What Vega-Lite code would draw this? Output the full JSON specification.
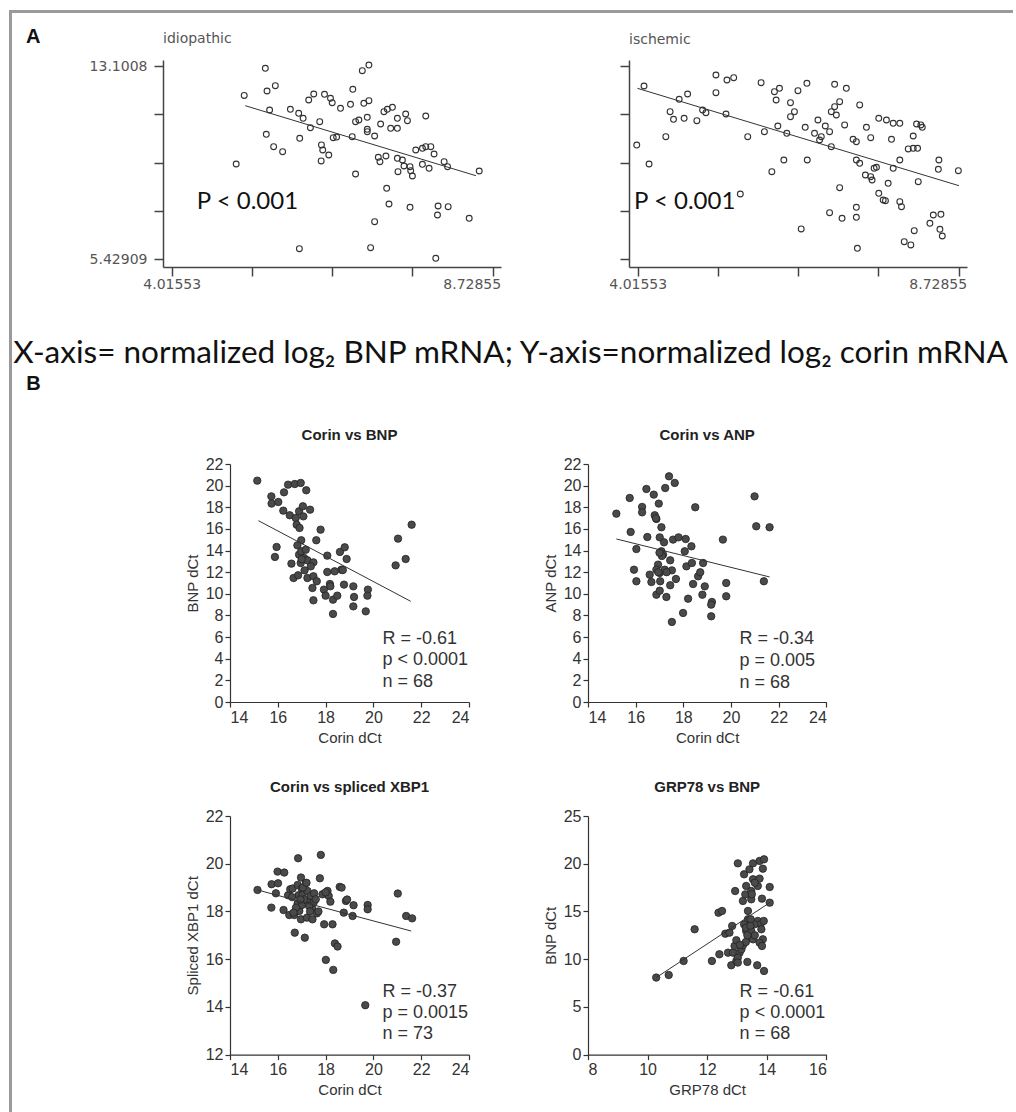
{
"$schema": "https://vega.github.io/schema/vega-lite/v6.json",
"background": "white",
"padding": {"left": 9, "top": 10, "right": 0, "bottom": 0},
"bounds": "flush",
"spacing": 0,
"datasets": {
"a_idio": [
{"x":5.390,"y":13.009},{"x":6.911,"y":13.14},{"x":6.814,"y":12.914},{"x":5.537,"y":12.318},{"x":5.415,"y":12.107},{"x":5.080,"y":11.93},{"x":6.101,"y":11.988},{"x":6.027,"y":11.749},{"x":6.259,"y":11.976},{"x":6.347,"y":11.817},{"x":6.372,"y":11.642},{"x":6.494,"y":11.42},{"x":6.675,"y":12.175},{"x":6.641,"y":11.578},{"x":6.837,"y":11.618},{"x":6.911,"y":11.721},{"x":5.453,"y":11.352},{"x":5.758,"y":11.380},{"x":5.880,"y":11.221},{"x":5.945,"y":11.022},{"x":6.052,"y":10.648},{"x":6.189,"y":10.887},{"x":6.387,"y":10.251},{"x":5.895,"y":10.227},{"x":5.404,"y":10.386},{"x":5.512,"y":9.893},{"x":5.644,"y":9.694},{"x":4.962,"y":9.205},{"x":6.214,"y":9.961},{"x":6.233,"y":9.762},{"x":6.322,"y":9.563},{"x":6.210,"y":9.325},{"x":6.666,"y":10.291},{"x":6.715,"y":10.887},{"x":6.764,"y":10.954},{"x":6.887,"y":11.062},{"x":6.887,"y":10.585},{"x":6.995,"y":10.318},{"x":7.083,"y":10.795},{"x":7.132,"y":11.284},{"x":7.182,"y":11.380},{"x":7.256,"y":11.459},{"x":7.231,"y":10.624},{"x":7.329,"y":10.624},{"x":7.329,"y":11.022},{"x":7.451,"y":11.193},{"x":7.477,"y":10.926},{"x":7.746,"y":11.113},{"x":6.715,"y":8.808},{"x":7.049,"y":9.472},{"x":7.073,"y":9.297},{"x":7.161,"y":9.523},{"x":7.329,"y":9.432},{"x":7.338,"y":8.899},{"x":7.403,"y":9.364},{"x":7.426,"y":9.126},{"x":7.515,"y":9.098},{"x":7.525,"y":8.939},{"x":7.550,"y":8.728},{"x":7.599,"y":9.762},{"x":7.697,"y":9.829},{"x":7.746,"y":9.893},{"x":7.820,"y":9.893},{"x":7.697,"y":9.193},{"x":7.795,"y":9.034},{"x":7.868,"y":9.603},{"x":8.016,"y":9.297},{"x":8.066,"y":9.098},{"x":8.531,"y":8.927},{"x":7.172,"y":8.239},{"x":7.206,"y":7.615},{"x":7.515,"y":7.484},{"x":7.927,"y":7.536},{"x":8.075,"y":7.508},{"x":7.918,"y":7.178},{"x":8.384,"y":7.047},{"x":6.995,"y":6.912},{"x":5.890,"y":5.839},{"x":6.936,"y":5.878},{"x":7.893,"y":5.457},{"x":6.887,"y":10.489},{"x":6.437,"y":10.278}
],
"a_isch": [
{"x":4.001,"y":9.960},{"x":4.182,"y":9.205},{"x":4.108,"y":12.306},{"x":4.428,"y":10.291},{"x":4.491,"y":11.284},{"x":4.541,"y":10.982},{"x":4.624,"y":11.777},{"x":4.748,"y":11.988},{"x":4.697,"y":11.022},{"x":4.884,"y":10.926},{"x":4.968,"y":11.352},{"x":5.017,"y":11.244},{"x":5.164,"y":12.743},{"x":5.164,"y":12.039},{"x":5.312,"y":11.193},{"x":5.326,"y":12.544},{"x":5.425,"y":12.636},{"x":5.631,"y":10.291},{"x":5.827,"y":12.437},{"x":5.876,"y":10.489},{"x":5.985,"y":8.899},{"x":6.023,"y":12.079},{"x":6.097,"y":12.214},{"x":6.048,"y":11.749},{"x":6.073,"y":10.716},{"x":6.161,"y":9.364},{"x":6.205,"y":10.426},{"x":6.259,"y":11.642},{"x":6.259,"y":11.085},{"x":6.317,"y":11.284},{"x":6.368,"y":12.119},{"x":6.500,"y":12.413},{"x":6.475,"y":10.664},{"x":6.505,"y":9.364},{"x":6.612,"y":10.426},{"x":6.662,"y":10.954},{"x":6.686,"y":10.159},{"x":6.711,"y":10.291},{"x":6.770,"y":10.716},{"x":6.833,"y":10.489},{"x":6.858,"y":9.893},{"x":6.858,"y":11.284},{"x":6.907,"y":11.483},{"x":6.932,"y":11.153},{"x":6.981,"y":11.682},{"x":6.907,"y":12.373},{"x":7.079,"y":12.214},{"x":7.054,"y":10.756},{"x":6.981,"y":8.263},{"x":6.833,"y":7.270},{"x":7.016,"y":7.047},{"x":7.226,"y":7.484},{"x":7.226,"y":7.087},{"x":7.241,"y":5.854},{"x":7.275,"y":11.551},{"x":7.178,"y":10.187},{"x":7.226,"y":10.092},{"x":7.226,"y":9.364},{"x":7.275,"y":9.233},{"x":7.374,"y":10.664},{"x":7.437,"y":10.251},{"x":7.359,"y":8.768},{"x":7.457,"y":8.569},{"x":7.487,"y":9.034},{"x":7.437,"y":8.701},{"x":7.521,"y":9.074},{"x":7.555,"y":8.041},{"x":7.620,"y":7.774},{"x":7.653,"y":7.746},{"x":7.693,"y":8.438},{"x":7.555,"y":11.022},{"x":7.668,"y":10.954},{"x":7.767,"y":10.823},{"x":7.742,"y":10.187},{"x":7.864,"y":10.823},{"x":7.767,"y":9.034},{"x":7.864,"y":7.707},{"x":7.889,"y":7.508},{"x":7.864,"y":9.364},{"x":8.061,"y":10.318},{"x":7.988,"y":9.802},{"x":8.061,"y":9.829},{"x":8.125,"y":9.829},{"x":8.110,"y":10.795},{"x":8.173,"y":10.756},{"x":8.194,"y":10.664},{"x":8.135,"y":8.502},{"x":7.929,"y":6.117},{"x":8.026,"y":5.986},{"x":8.076,"y":6.554},{"x":8.306,"y":6.848},{"x":8.356,"y":7.178},{"x":8.468,"y":7.206},{"x":8.453,"y":6.610},{"x":8.488,"y":6.343},{"x":8.430,"y":8.995},{"x":8.438,"y":9.364},{"x":8.724,"y":8.939},{"x":6.416,"y":6.622},{"x":5.522,"y":8.013}
],
"b1": [
{"x":15.14,"y":20.46},{"x":15.73,"y":19.01},{"x":15.74,"y":18.34},{"x":16.02,"y":18.49},{"x":16.23,"y":17.69},{"x":16.26,"y":19.38},{"x":16.43,"y":20.09},{"x":16.71,"y":20.15},{"x":16.96,"y":20.25},{"x":17.19,"y":19.57},{"x":16.50,"y":17.26},{"x":16.75,"y":17.01},{"x":16.89,"y":17.63},{"x":17.05,"y":18.09},{"x":17.07,"y":17.16},{"x":17.35,"y":17.78},{"x":16.79,"y":16.39},{"x":16.91,"y":16.09},{"x":16.98,"y":14.95},{"x":16.82,"y":14.48},{"x":17.79,"y":15.93},{"x":17.61,"y":14.95},{"x":15.95,"y":14.33},{"x":15.88,"y":13.41},{"x":16.89,"y":13.62},{"x":16.98,"y":13.93},{"x":17.17,"y":14.08},{"x":17.10,"y":13.31},{"x":17.24,"y":13.10},{"x":16.96,"y":12.85},{"x":17.49,"y":12.91},{"x":17.38,"y":12.54},{"x":16.57,"y":12.79},{"x":16.66,"y":11.46},{"x":16.85,"y":11.71},{"x":17.12,"y":12.17},{"x":17.24,"y":11.46},{"x":17.49,"y":11.62},{"x":17.63,"y":11.16},{"x":17.45,"y":10.54},{"x":17.49,"y":9.40},{"x":18.07,"y":13.53},{"x":18.07,"y":12.02},{"x":18.38,"y":12.08},{"x":18.18,"y":10.91},{"x":17.93,"y":10.39},{"x":18.00,"y":9.83},{"x":18.31,"y":9.46},{"x":18.49,"y":9.83},{"x":18.31,"y":8.14},{"x":18.60,"y":13.87},{"x":18.80,"y":14.30},{"x":18.88,"y":13.22},{"x":18.66,"y":12.23},{"x":18.77,"y":10.85},{"x":19.16,"y":10.69},{"x":19.19,"y":9.71},{"x":19.16,"y":8.84},{"x":19.68,"y":8.38},{"x":19.77,"y":10.39},{"x":19.75,"y":9.83},{"x":20.93,"y":12.63},{"x":21.03,"y":15.10},{"x":21.35,"y":13.22},{"x":21.60,"y":16.39},{"x":18.72,"y":12.2},{"x":17.0,"y":13.2},{"x":18.2,"y":10.7}
],
"b2": [
{"x":15.19,"y":17.41},{"x":15.75,"y":18.86},{"x":15.79,"y":15.72},{"x":16.03,"y":14.14},{"x":15.93,"y":12.23},{"x":16.03,"y":11.16},{"x":16.27,"y":18.03},{"x":16.27,"y":17.53},{"x":16.45,"y":19.69},{"x":16.49,"y":15.25},{"x":16.76,"y":19.17},{"x":16.80,"y":17.26},{"x":16.87,"y":16.92},{"x":16.97,"y":18.34},{"x":17.08,"y":16.15},{"x":17.24,"y":19.78},{"x":17.40,"y":20.86},{"x":17.64,"y":20.25},{"x":17.01,"y":15.22},{"x":17.19,"y":14.76},{"x":17.08,"y":13.93},{"x":17.15,"y":13.62},{"x":17.45,"y":13.10},{"x":16.94,"y":12.70},{"x":16.87,"y":12.23},{"x":17.01,"y":11.93},{"x":17.22,"y":12.23},{"x":17.52,"y":12.17},{"x":16.59,"y":11.77},{"x":16.66,"y":11.09},{"x":17.03,"y":11.16},{"x":17.69,"y":11.37},{"x":17.45,"y":10.79},{"x":16.87,"y":9.92},{"x":17.01,"y":10.29},{"x":17.29,"y":9.71},{"x":17.52,"y":7.40},{"x":17.57,"y":15.01},{"x":17.80,"y":15.22},{"x":18.10,"y":15.07},{"x":18.34,"y":14.39},{"x":18.06,"y":13.93},{"x":18.13,"y":12.54},{"x":18.36,"y":12.85},{"x":18.50,"y":18.00},{"x":18.20,"y":9.55},{"x":17.99,"y":8.23},{"x":18.41,"y":10.91},{"x":18.62,"y":11.62},{"x":18.71,"y":11.99},{"x":18.83,"y":12.85},{"x":18.90,"y":10.69},{"x":18.80,"y":9.92},{"x":19.20,"y":9.25},{"x":19.17,"y":9.00},{"x":19.17,"y":7.92},{"x":19.66,"y":15.01},{"x":19.80,"y":11.00},{"x":19.80,"y":9.77},{"x":20.99,"y":19.01},{"x":21.06,"y":16.24},{"x":21.62,"y":16.15},{"x":21.38,"y":11.16},{"x":17.1,"y":13.5},{"x":16.95,"y":12.0},{"x":17.3,"y":12.0},{"x":16.85,"y":17.0},{"x":17.0,"y":13.8}
],
"b3": [
{"x":15.15,"y":18.90},{"x":15.73,"y":18.16},{"x":15.74,"y":19.14},{"x":15.92,"y":18.76},{"x":16.01,"y":19.18},{"x":15.99,"y":19.67},{"x":16.27,"y":19.63},{"x":16.24,"y":18.06},{"x":16.43,"y":18.68},{"x":16.52,"y":18.93},{"x":16.48,"y":17.85},{"x":16.69,"y":17.85},{"x":16.62,"y":18.96},{"x":16.71,"y":17.11},{"x":16.85,"y":20.23},{"x":16.83,"y":19.11},{"x":16.87,"y":18.68},{"x":16.83,"y":18.34},{"x":16.90,"y":18.02},{"x":16.97,"y":19.42},{"x":17.00,"y":18.96},{"x":17.03,"y":18.68},{"x":16.97,"y":17.67},{"x":17.01,"y":18.27},{"x":17.13,"y":16.90},{"x":17.17,"y":19.18},{"x":17.24,"y":18.86},{"x":17.24,"y":18.44},{"x":17.22,"y":17.74},{"x":17.38,"y":18.65},{"x":17.43,"y":18.16},{"x":17.45,"y":17.67},{"x":17.50,"y":18.37},{"x":17.52,"y":18.76},{"x":17.64,"y":17.92},{"x":17.76,"y":19.39},{"x":17.80,"y":20.37},{"x":17.87,"y":18.72},{"x":17.94,"y":17.46},{"x":18.01,"y":15.97},{"x":18.08,"y":18.86},{"x":18.13,"y":18.65},{"x":18.20,"y":18.41},{"x":18.29,"y":17.46},{"x":18.32,"y":15.55},{"x":18.39,"y":16.66},{"x":18.50,"y":16.53},{"x":18.59,"y":19.03},{"x":18.67,"y":19.00},{"x":18.76,"y":17.95},{"x":18.85,"y":18.44},{"x":19.13,"y":17.81},{"x":19.17,"y":18.26},{"x":19.66,"y":14.07},{"x":19.76,"y":18.27},{"x":19.76,"y":18.09},{"x":20.95,"y":16.73},{"x":21.02,"y":18.75},{"x":21.37,"y":17.81},{"x":21.62,"y":17.71},{"x":16.76,"y":18.16},{"x":16.66,"y":17.95},{"x":17.31,"y":18.23},{"x":17.59,"y":18.51},{"x":17.10,"y":18.51},{"x":17.05,"y":19.0},{"x":16.95,"y":18.5},{"x":17.35,"y":18.0},{"x":18.0,"y":18.8},{"x":16.6,"y":18.6},{"x":17.2,"y":19.2},{"x":18.9,"y":18.5},{"x":17.7,"y":18.0}
],
"b4": [
{"x":10.29,"y":8.07},{"x":10.71,"y":8.34},{"x":11.21,"y":9.81},{"x":11.58,"y":13.13},{"x":12.16,"y":9.81},{"x":12.38,"y":14.87},{"x":12.50,"y":15.05},{"x":12.41,"y":10.51},{"x":12.61,"y":12.67},{"x":12.75,"y":12.78},{"x":12.84,"y":13.48},{"x":12.70,"y":10.68},{"x":12.81,"y":9.36},{"x":12.98,"y":9.81},{"x":12.87,"y":10.68},{"x":12.92,"y":11.38},{"x":12.98,"y":11.98},{"x":13.03,"y":20.04},{"x":12.94,"y":17.14},{"x":13.20,"y":16.10},{"x":13.24,"y":18.89},{"x":13.31,"y":17.67},{"x":13.28,"y":16.79},{"x":13.37,"y":15.05},{"x":13.42,"y":19.41},{"x":13.48,"y":17.14},{"x":13.48,"y":16.27},{"x":13.54,"y":20.04},{"x":13.37,"y":14.18},{"x":13.24,"y":13.65},{"x":13.31,"y":12.95},{"x":13.40,"y":12.26},{"x":13.48,"y":12.95},{"x":13.54,"y":12.08},{"x":13.09,"y":10.68},{"x":13.15,"y":11.03},{"x":13.20,"y":11.45},{"x":13.03,"y":10.16},{"x":13.03,"y":9.64},{"x":13.35,"y":9.71},{"x":13.54,"y":18.37},{"x":13.70,"y":17.67},{"x":13.76,"y":18.44},{"x":13.76,"y":20.29},{"x":13.91,"y":20.46},{"x":13.87,"y":19.48},{"x":13.84,"y":16.34},{"x":14.10,"y":17.56},{"x":14.10,"y":15.92},{"x":13.70,"y":14.00},{"x":13.79,"y":13.65},{"x":13.82,"y":13.13},{"x":13.87,"y":12.08},{"x":13.76,"y":11.73},{"x":13.84,"y":11.38},{"x":13.68,"y":9.36},{"x":13.91,"y":8.76},{"x":13.59,"y":13.65},{"x":13.46,"y":14.18},{"x":13.3,"y":13.3},{"x":13.45,"y":13.5},{"x":13.6,"y":12.5},{"x":13.3,"y":11.8},{"x":13.1,"y":11.5},{"x":13.5,"y":16.8},{"x":13.6,"y":18.0},{"x":13.9,"y":14.0},{"x":13.35,"y":12.5}
]
},
"hconcat": [
{"width": 3, "height": 1102, "view": {"fill": "#9a9a9a"}, "data": {"values": []}, "mark": "point"},
{"vconcat": [
 {"width": 1001, "height": 3, "view": {"fill": "#9a9a9a"}, "data": {"values": []}, "mark": "point"},
 {"width": 10, "height": 14, "data": {"values": []}, "mark": "point"},
 {"hconcat": [
   {"width": 151, "height": 207, "data": {"values": []}, "mark": "point",
    "title": {"text": "A", "anchor": "start", "dx": 14, "font": "Liberation Sans", "fontSize": 20, "fontWeight": "bold", "color": "#111", "offset": 13}},
   {"width": 338, "height": 207,
    "title": {"text": "idiopathic", "anchor": "start", "font": "DejaVu Sans", "fontSize": 14, "fontWeight": "normal", "color": "#555", "offset": 13},
    "layer": [
     {"data": {"name": "a_idio"}, "mark": {"type": "point", "shape": "circle", "filled": false, "size": 34, "stroke": "#333", "strokeWidth": 1.1, "opacity": 1},
      "encoding": {
       "x": {"field": "x", "type": "quantitative", "scale": {"domain": [3.8874, 8.8508], "nice": false, "zero": false},
        "axis": {"title": null, "values": [4.01553, 5.193785, 6.37204, 7.550295, 8.72855], "format": ".6", "labelExpr": "datum.value < 4.1 || datum.value > 8.7 ? datum.label : ''", "labelAlign": {"condition": {"test": "datum.value > 8.7", "value": "right"}, "value": "center"}, "labelOffset": {"condition": {"test": "datum.value > 8.7", "value": 8}, "value": 0}, "labelOverlap": false, "labelBound": false, "labelFlush": false, "tickSize": 9, "tickWidth": 1.5, "domainWidth": 1.5, "labelPadding": 1, "labelFont": "DejaVu Sans", "labelFontSize": 14, "labelColor": "#555", "domainColor": "#444", "tickColor": "#444"}},
       "y": {"field": "y", "type": "quantitative", "scale": {"domain": [5.1111, 13.3393], "nice": false, "zero": false},
        "axis": {"title": null, "values": [5.42909, 7.347018, 9.264945, 11.182873, 13.1008], "format": ".6", "labelExpr": "datum.value < 5.5 || datum.value > 13 ? datum.label : ''", "labelOverlap": false, "labelBound": false, "labelFlush": false, "tickSize": 9, "tickWidth": 1.5, "domainWidth": 1.5, "labelPadding": 7, "labelFont": "DejaVu Sans", "labelFontSize": 14, "labelColor": "#555", "domainColor": "#444", "tickColor": "#444"}}
      }},
     {"data": {"values": [{"x": 5.095, "y": 11.523}, {"x": 8.483, "y": 8.740}]}, "mark": {"type": "line", "color": "#333", "strokeWidth": 1}, "encoding": {"x": {"field": "x", "type": "quantitative"}, "y": {"field": "y", "type": "quantitative"}}},
     {"data": {"values": [{"x": 4.384, "y": 7.707, "t": "P < 0.001"}]}, "mark": {"type": "text", "align": "left", "baseline": "middle", "font": "Lato", "fontSize": 24, "color": "#111"}, "encoding": {"x": {"field": "x", "type": "quantitative"}, "y": {"field": "y", "type": "quantitative"}, "text": {"field": "t"}}}
    ]},
   {"width": 127.3, "height": 207, "data": {"values": []}, "mark": "point"},
   {"width": 338, "height": 207,
    "title": {"text": "ischemic", "anchor": "start", "font": "DejaVu Sans", "fontSize": 14, "fontWeight": "normal", "color": "#555", "offset": 13},
    "layer": [
     {"data": {"name": "a_isch"}, "mark": {"type": "point", "shape": "circle", "filled": false, "size": 34, "stroke": "#333", "strokeWidth": 1.1, "opacity": 1},
      "encoding": {
       "x": {"field": "x", "type": "quantitative", "scale": {"domain": [3.8874, 8.8508], "nice": false, "zero": false},
        "axis": {"title": null, "values": [4.01553, 5.193785, 6.37204, 7.550295, 8.72855], "format": ".6", "labelExpr": "datum.value < 4.1 || datum.value > 8.7 ? datum.label : ''", "labelAlign": {"condition": {"test": "datum.value > 8.7", "value": "right"}, "value": "center"}, "labelOffset": {"condition": {"test": "datum.value > 8.7", "value": 8}, "value": 0}, "labelOverlap": false, "labelBound": false, "labelFlush": false, "tickSize": 9, "tickWidth": 1.5, "domainWidth": 1.5, "labelPadding": 1, "labelFont": "DejaVu Sans", "labelFontSize": 14, "labelColor": "#555", "domainColor": "#444", "tickColor": "#444"}},
       "y": {"field": "y", "type": "quantitative", "scale": {"domain": [5.1111, 13.3393], "nice": false, "zero": false},
        "axis": {"title": null, "values": [5.42909, 7.347018, 9.264945, 11.182873, 13.1008], "labels": false, "tickSize": 9, "tickWidth": 1.5, "domainWidth": 1.5, "domainColor": "#444", "tickColor": "#444"}}
      }},
     {"data": {"values": [{"x": 4.011, "y": 12.214}, {"x": 8.733, "y": 8.343}]}, "mark": {"type": "line", "color": "#333", "strokeWidth": 1}, "encoding": {"x": {"field": "x", "type": "quantitative"}, "y": {"field": "y", "type": "quantitative"}}},
     {"data": {"values": [{"x": 3.961, "y": 7.707, "t": "P < 0.001"}]}, "mark": {"type": "text", "align": "left", "baseline": "middle", "font": "Lato", "fontSize": 24, "color": "#111"}, "encoding": {"x": {"field": "x", "type": "quantitative"}, "y": {"field": "y", "type": "quantitative"}, "text": {"field": "t"}}}
    ]}
  ], "spacing": 0, "bounds": "flush"},
 {"width": 10, "height": 43, "data": {"values": []}, "mark": "point"},
 {"width": 997, "height": 40, "data": {"values": [{"t": "X-axis= normalized log₂ BNP mRNA; Y-axis=normalized log₂ corin mRNA"}]}, "mark": {"type": "text", "font": "Lato", "fontSize": 31.5, "color": "#111", "baseline": "middle"}, "encoding": {"text": {"field": "t"}}},
 {"width": 43, "height": 20, "data": {"values": [{"t": "B"}]}, "mark": {"type": "text", "font": "Liberation Sans", "fontSize": 20, "fontWeight": "bold", "color": "#111", "baseline": "middle"}, "encoding": {"text": {"field": "t"}}},
 {"width": 10, "height": 33.6, "data": {"values": []}, "mark": "point"},
 {"hconcat": [
   {"width": 217.3, "height": 238, "data": {"values": []}, "mark": "point"},
   {"width": 239, "height": 238, "title": "Corin vs BNP",
    "layer": [
     {"data": {"name": "b1"}, "mark": {"type": "circle", "size": 55, "fill": "#4a4a4a", "stroke": "#222", "strokeWidth": 0.8, "opacity": 1},
      "encoding": {
       "x": {"field": "x", "type": "quantitative", "scale": {"domain": [14, 24], "nice": false, "zero": false}, "axis": {"title": "Corin dCt", "values": [14, 16, 18, 20, 22, 24], "tickCount": 12, "format": "d"}},
       "y": {"field": "y", "type": "quantitative", "scale": {"domain": [0, 22], "nice": false, "zero": false}, "axis": {"title": "BNP dCt", "values": [0, 2, 4, 6, 8, 10, 12, 14, 16, 18, 20, 22], "tickCount": 24, "format": "d"}}
      }},
     {"data": {"values": [{"x": 15.19, "y": 16.76}, {"x": 21.56, "y": 9.31}]}, "mark": {"type": "line", "color": "#333", "strokeWidth": 1}, "encoding": {"x": {"field": "x", "type": "quantitative"}, "y": {"field": "y", "type": "quantitative"}}},
     {"data": {"values": [{"x": 20.38, "y": 5.82, "t": "R = -0.61"}, {"x": 20.38, "y": 3.85, "t": "p < 0.0001"}, {"x": 20.38, "y": 1.85, "t": "n = 68"}]}, "mark": {"type": "text", "align": "left", "baseline": "middle", "font": "Liberation Sans", "fontSize": 18, "color": "#333"}, "encoding": {"x": {"field": "x", "type": "quantitative"}, "y": {"field": "y", "type": "quantitative"}, "text": {"field": "t"}}}
    ]},
   {"width": 118.4, "height": 238, "data": {"values": []}, "mark": "point"},
   {"width": 238.3, "height": 238, "title": "Corin vs ANP",
    "layer": [
     {"data": {"name": "b2"}, "mark": {"type": "circle", "size": 55, "fill": "#4a4a4a", "stroke": "#222", "strokeWidth": 0.8, "opacity": 1},
      "encoding": {
       "x": {"field": "x", "type": "quantitative", "scale": {"domain": [14, 24], "nice": false, "zero": false}, "axis": {"title": "Corin dCt", "values": [14, 16, 18, 20, 22, 24], "tickCount": 12, "format": "d"}},
       "y": {"field": "y", "type": "quantitative", "scale": {"domain": [0, 22], "nice": false, "zero": false}, "axis": {"title": "ANP dCt", "values": [0, 2, 4, 6, 8, 10, 12, 14, 16, 18, 20, 22], "tickCount": 24, "format": "d"}}
      }},
     {"data": {"values": [{"x": 15.19, "y": 15.07}, {"x": 21.62, "y": 11.56}]}, "mark": {"type": "line", "color": "#333", "strokeWidth": 1}, "encoding": {"x": {"field": "x", "type": "quantitative"}, "y": {"field": "y", "type": "quantitative"}}},
     {"data": {"values": [{"x": 20.36, "y": 5.78, "t": "R = -0.34"}, {"x": 20.36, "y": 3.75, "t": "p = 0.005"}, {"x": 20.36, "y": 1.78, "t": "n = 68"}]}, "mark": {"type": "text", "align": "left", "baseline": "middle", "font": "Liberation Sans", "fontSize": 18, "color": "#333"}, "encoding": {"x": {"field": "x", "type": "quantitative"}, "y": {"field": "y", "type": "quantitative"}, "text": {"field": "t"}}}
    ]}
  ], "spacing": 0, "bounds": "flush"},
 {"width": 10, "height": 34.9, "data": {"values": []}, "mark": "point"},
 {"hconcat": [
   {"width": 217.3, "height": 238.6, "data": {"values": []}, "mark": "point"},
   {"width": 239, "height": 238.6, "title": "Corin vs spliced XBP1",
    "layer": [
     {"data": {"name": "b3"}, "mark": {"type": "circle", "size": 55, "fill": "#4a4a4a", "stroke": "#222", "strokeWidth": 0.8, "opacity": 1},
      "encoding": {
       "x": {"field": "x", "type": "quantitative", "scale": {"domain": [14, 24], "nice": false, "zero": false}, "axis": {"title": "Corin dCt", "values": [14, 16, 18, 20, 22, 24], "tickCount": 12, "format": "d"}},
       "y": {"field": "y", "type": "quantitative", "scale": {"domain": [12, 22], "nice": false, "zero": false}, "axis": {"title": "Spliced XBP1 dCt", "values": [12, 14, 16, 18, 20, 22], "tickCount": 12, "format": "d"}}
      }},
     {"data": {"values": [{"x": 15.15, "y": 18.90}, {"x": 21.58, "y": 17.18}]}, "mark": {"type": "line", "color": "#333", "strokeWidth": 1}, "encoding": {"x": {"field": "x", "type": "quantitative"}, "y": {"field": "y", "type": "quantitative"}}},
     {"data": {"values": [{"x": 20.38, "y": 14.64, "t": "R = -0.37"}, {"x": 20.38, "y": 13.73, "t": "p = 0.0015"}, {"x": 20.38, "y": 12.85, "t": "n = 73"}]}, "mark": {"type": "text", "align": "left", "baseline": "middle", "font": "Liberation Sans", "fontSize": 18, "color": "#333"}, "encoding": {"x": {"field": "x", "type": "quantitative"}, "y": {"field": "y", "type": "quantitative"}, "text": {"field": "t"}}}
    ]},
   {"width": 118.4, "height": 238.6, "data": {"values": []}, "mark": "point"},
   {"width": 238.3, "height": 238.6, "title": "GRP78 vs BNP",
    "layer": [
     {"data": {"name": "b4"}, "mark": {"type": "circle", "size": 55, "fill": "#4a4a4a", "stroke": "#222", "strokeWidth": 0.8, "opacity": 1},
      "encoding": {
       "x": {"field": "x", "type": "quantitative", "scale": {"domain": [8, 16], "nice": false, "zero": false}, "axis": {"title": "GRP78 dCt", "values": [8, 10, 12, 14, 16], "tickCount": 12, "format": "d"}},
       "y": {"field": "y", "type": "quantitative", "scale": {"domain": [0, 25], "nice": false, "zero": false}, "axis": {"title": "BNP dCt", "values": [0, 5, 10, 15, 20, 25], "tickCount": 12, "format": "d"}}
      }},
     {"data": {"values": [{"x": 10.29, "y": 8.07}, {"x": 14.10, "y": 15.92}]}, "mark": {"type": "line", "color": "#333", "strokeWidth": 1}, "encoding": {"x": {"field": "x", "type": "quantitative"}, "y": {"field": "y", "type": "quantitative"}}},
     {"data": {"values": [{"x": 13.09, "y": 6.60, "t": "R = -0.61"}, {"x": 13.09, "y": 4.33, "t": "p < 0.0001"}, {"x": 13.09, "y": 2.13, "t": "n = 68"}]}, "mark": {"type": "text", "align": "left", "baseline": "middle", "font": "Liberation Sans", "fontSize": 18, "color": "#333"}, "encoding": {"x": {"field": "x", "type": "quantitative"}, "y": {"field": "y", "type": "quantitative"}, "text": {"field": "t"}}}
    ]}
  ], "spacing": 0, "bounds": "flush"}
], "spacing": 0}
],
"config": {
 "view": {"stroke": null},
 "font": "Liberation Sans",
 "axis": {"grid": false, "domainColor": "#333", "tickColor": "#333", "domainWidth": 1.2, "tickWidth": 1.2, "labelFont": "Liberation Sans", "labelFontSize": 16, "labelColor": "#333", "labelOverlap": false, "titleFont": "Liberation Sans", "titleFontSize": 15, "titleFontWeight": "normal", "titleColor": "#333", "tickSize": 5, "labelPadding": 2, "titlePadding": 5},
 "title": {"font": "Liberation Sans", "fontSize": 15, "fontWeight": "bold", "color": "#222", "frame": "group", "anchor": "middle", "offset": 13, "baseline": "alphabetic"}
}
}
